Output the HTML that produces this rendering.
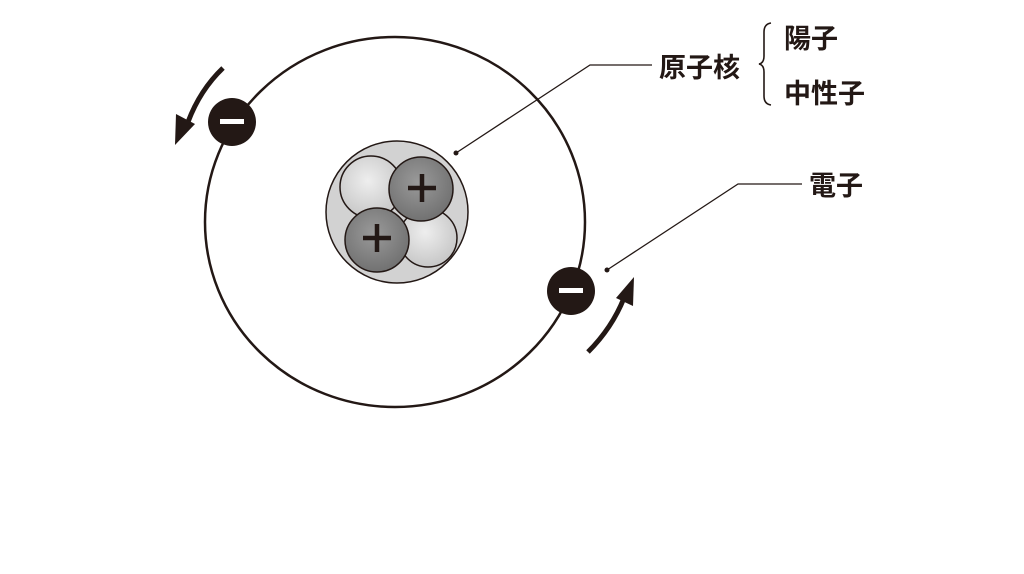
<!DOCTYPE html>
<html><head><meta charset="utf-8"><style>
html,body{margin:0;padding:0;background:#fff;width:1024px;height:574px;overflow:hidden}
</style></head><body>
<svg width="1024" height="574" viewBox="0 0 1024 574" xmlns="http://www.w3.org/2000/svg">
<defs>
<radialGradient id="lg" cx="45%" cy="40%" r="65%"><stop offset="0" stop-color="#eee"/><stop offset="1" stop-color="#c4c4c4"/></radialGradient>
<radialGradient id="dg" cx="45%" cy="40%" r="65%"><stop offset="0" stop-color="#9a9a9a"/><stop offset="1" stop-color="#6e6e6e"/></radialGradient>
</defs>
<ellipse cx="395" cy="222" rx="190" ry="185" fill="none" stroke="#231815" stroke-width="2.5"/>
<circle cx="397" cy="212" r="71" fill="#d2d2d2" stroke="#231815" stroke-width="1.5"/>
<circle cx="428" cy="238" r="29" fill="url(#lg)" stroke="#231815" stroke-width="1.5"/>
<circle cx="371" cy="187" r="31" fill="url(#lg)" stroke="#231815" stroke-width="1.5"/>
<circle cx="377" cy="240" r="32" fill="url(#dg)" stroke="#231815" stroke-width="1.5"/>
<circle cx="421" cy="189" r="32" fill="url(#dg)" stroke="#231815" stroke-width="1.5"/>
<g stroke="#231815" stroke-width="4.5">
<line x1="408" y1="188" x2="436" y2="188"/><line x1="422" y1="174" x2="422" y2="202"/>
<line x1="363" y1="238" x2="391" y2="238"/><line x1="377" y1="224" x2="377" y2="252"/>
</g>
<circle cx="232" cy="122" r="24" fill="#231815"/>
<rect x="220" y="119" width="24" height="5" fill="#fff"/>
<circle cx="571" cy="291" r="24" fill="#231815"/>
<rect x="559" y="288" width="24" height="5" fill="#fff"/>
<path d="M223 68 Q200 90 188 122" fill="none" stroke="#231815" stroke-width="5"/>
<polygon points="175,145 176,114 195,124" fill="#231815"/>
<path d="M588 352 Q612 328 624 298" fill="none" stroke="#231815" stroke-width="5"/>
<polygon points="634,277 633,306 616,298" fill="#231815"/>
<polyline points="456,153 590,65 652,65" fill="none" stroke="#231815" stroke-width="1.3"/>
<circle cx="456" cy="153" r="2.5" fill="#231815"/>
<polyline points="607,270 738,184 802,184" fill="none" stroke="#231815" stroke-width="1.3"/>
<circle cx="607" cy="270" r="2.5" fill="#231815"/>
<path d="M771 23 Q764 24 764 32 L764 56 Q764 63 759 64 Q764 65 764 72 L764 96 Q764 104 771 105" fill="none" stroke="#231815" stroke-width="1.6"/>
<g font-family="Liberation Sans, Noto Sans CJK JP, sans-serif" font-size="27" font-weight="bold" fill="#231815">
<text x="659" y="77">原子核</text>
<text x="784" y="48">陽子</text>
<text x="784" y="103">中性子</text>
<text x="809" y="195">電子</text>
</g>
</svg>
</body></html>
